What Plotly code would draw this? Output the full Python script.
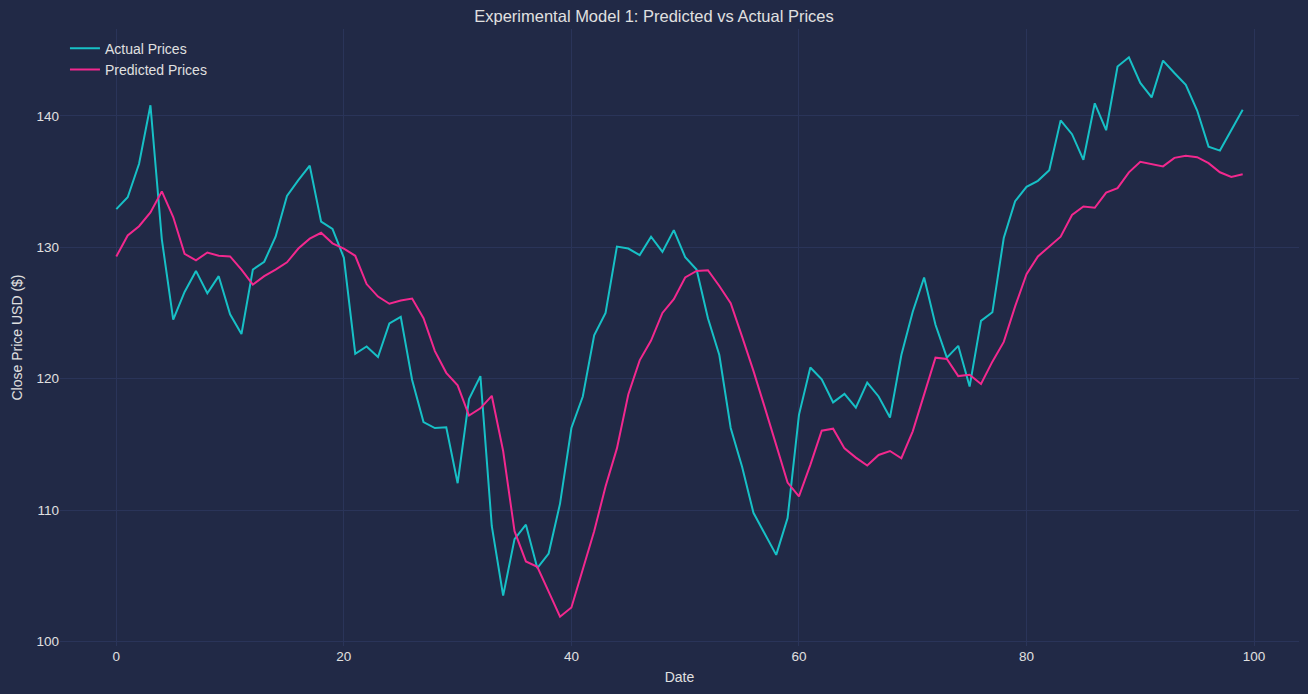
import plotly.graph_objects as go

days = list(range(100))

actual_prices = [
    132.9, 133.8, 136.35, 140.8, 130.6, 124.5, 126.6, 128.2, 126.5, 127.8,
    124.9, 123.4, 128.3, 128.9, 130.8, 133.9, 135.1, 136.2, 131.95, 131.4,
    129.2, 121.9, 122.45, 121.65, 124.2, 124.7, 119.9, 116.7, 116.25, 116.3,
    112.05, 118.45, 120.2, 108.8, 103.5, 107.8, 108.9, 105.6, 106.7, 110.5,
    116.25, 118.65, 123.3, 125.0, 130.05, 129.9, 129.4, 130.8, 129.65, 131.3,
    129.25, 128.3, 124.6, 121.8, 116.25, 113.3, 109.8, 108.2, 106.6, 109.4,
    117.25, 120.85, 119.95, 118.2, 118.85, 117.8, 119.7, 118.65, 117.05, 121.8,
    125.1, 127.7, 124.1, 121.6, 122.5, 119.4, 124.4, 125.05, 130.7, 133.5,
    134.6, 135.05, 135.85, 139.65, 138.6, 136.65, 140.95, 138.9, 143.75, 144.45,
    142.5, 141.4, 144.2, 143.25, 142.35, 140.4, 137.65, 137.35, 138.9, 140.45,
]

predicted_prices = [
    129.3, 130.9, 131.6, 132.65, 134.25, 132.3, 129.5, 129.0, 129.6, 129.35,
    129.3, 128.3, 127.15, 127.8, 128.3, 128.85, 129.9, 130.65, 131.1, 130.3,
    129.9, 129.35, 127.2, 126.25, 125.7, 125.95, 126.1, 124.6, 122.1, 120.45,
    119.5, 117.2, 117.75, 118.7, 114.5, 108.4, 106.1, 105.7, 103.8, 101.9,
    102.6, 105.6, 108.4, 111.8, 114.7, 118.8, 121.4, 122.9, 125.0, 126.05,
    127.7, 128.2, 128.25, 127.05, 125.75, 123.2, 120.6, 117.8, 115.0, 112.1,
    111.05, 113.45, 116.05, 116.2, 114.7, 114.0, 113.4, 114.2, 114.5, 113.95,
    116.0, 118.85, 121.6, 121.5, 120.2, 120.3, 119.6, 121.3, 122.8, 125.5,
    127.95, 129.3, 130.05, 130.8, 132.45, 133.1, 133.0, 134.15, 134.5, 135.7,
    136.5, 136.35, 136.15, 136.8, 136.95, 136.85, 136.4, 135.7, 135.35, 135.55,
]

x_ticks = [0, 20, 40, 60, 80, 100]
y_ticks = [100, 110, 120, 130, 140]

bg = "#212946"
grid = "#2A3459"
text = "#E0E0E0"

fig = go.Figure()

fig.add_trace(go.Scatter(
    x=days, y=actual_prices, mode="lines", name="Actual Prices",
    line=dict(color="#17C0C6", width=2),
))
fig.add_trace(go.Scatter(
    x=days, y=predicted_prices, mode="lines", name="Predicted Prices",
    line=dict(color="#F2288E", width=2),
))

fig.update_layout(
    width=1308,
    height=694,
    paper_bgcolor=bg,
    plot_bgcolor=bg,
    font=dict(family="Liberation Sans, Arial, sans-serif", size=14, color=text),
    title=dict(
        text="Experimental Model 1: Predicted vs Actual Prices",
        x=0.5, xanchor="center", y=0.977, yanchor="middle",
        font=dict(size=16.5, color=text),
    ),
    margin=dict(l=60, r=9, t=29, b=48),
    showlegend=True,
    legend=dict(
        x=0.004, y=0.994, xanchor="left", yanchor="top",
        bgcolor="rgba(0,0,0,0)", font=dict(size=14, color=text),
        itemwidth=30, tracegroupgap=0,
    ),
)

fig.update_xaxes(
    range=[-4.95, 103.95],
    tickvals=x_ticks,
    showgrid=True, gridcolor=grid, gridwidth=1,
    zeroline=False, showline=False, ticks="",
    title=dict(text="Date", standoff=9, font=dict(size=14, color=text)),
    tickfont=dict(size=13.5, color=text),
)
fig.update_yaxes(
    range=[99.67, 146.6],
    tickvals=y_ticks,
    showgrid=True, gridcolor=grid, gridwidth=1,
    zeroline=False, showline=False, ticks="",
    title=dict(text="Close Price USD ($)", standoff=10, font=dict(size=14, color=text)),
    tickfont=dict(size=13.5, color=text),
)

# drop the page margin so the figure sits flush in the window
fig.write_html(
    "out.html",
    config={"displayModeBar": False},
    post_script="document.body.style.margin='0';document.body.style.background='#212946';",
)
